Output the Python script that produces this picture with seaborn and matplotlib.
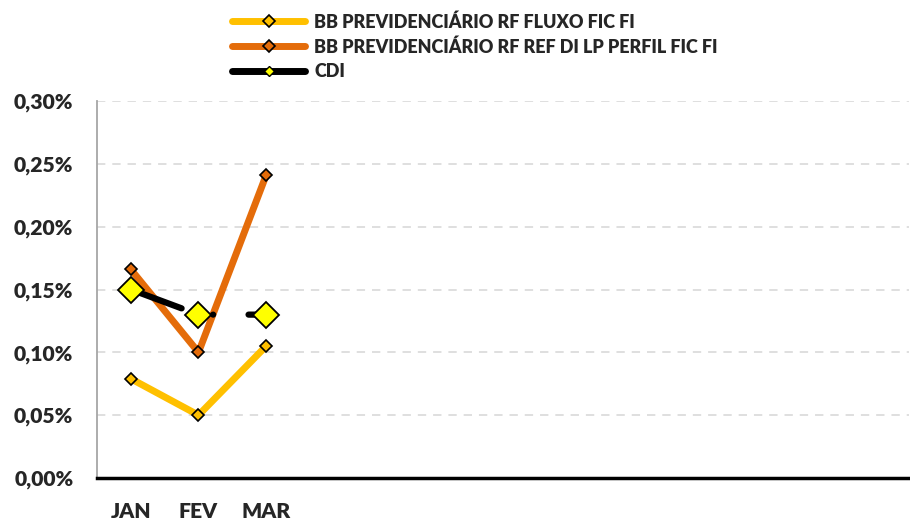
import matplotlib
matplotlib.use("Agg")
import matplotlib.pyplot as plt
from matplotlib.lines import Line2D
from matplotlib.ticker import FuncFormatter, FixedLocator
import numpy as np
import pandas as pd
import seaborn as sns

# dados (% ao mes)
meses = ["JAN", "FEV", "MAR", "", "", "", "", "", "", "", "", ""]
fluxo = [0.079, 0.050, 0.105]
perfil = [0.166, 0.100, 0.241]
cdi = [0.150, 0.130, 0.130]

nome_fluxo = "BB PREVIDENCIÁRIO RF FLUXO FIC FI"
nome_perfil = "BB PREVIDENCIÁRIO RF REF DI LP PERFIL FIC FI"
nome_cdi = "CDI"

cor_fluxo = "#FFC000"
cor_perfil = "#E46C0A"
cor_cdi_marker = "#FFFF00"

sns.set_style("white")
plt.rcParams["font.family"] = ["Lato", "DejaVu Sans"]
plt.rcParams["lines.scale_dashes"] = False

fig = plt.figure(figsize=(9.10, 5.22), dpi=100)
ax = fig.add_axes([97 / 910, 1 - 478 / 522, 812 / 910, 377 / 522])

x = np.arange(len(fluxo))
df = pd.DataFrame({"x": x, "fluxo": fluxo, "perfil": perfil, "cdi": cdi})

sns.lineplot(data=df, x="x", y="fluxo", ax=ax, color=cor_fluxo, lw=5,
             marker="D", markersize=6, markerfacecolor=cor_fluxo,
             markeredgecolor="black", markeredgewidth=1.2, zorder=3)
sns.lineplot(data=df, x="x", y="perfil", ax=ax, color=cor_perfil, lw=5,
             marker="D", markersize=6, markerfacecolor=cor_perfil,
             markeredgecolor="black", markeredgewidth=1.2, zorder=4)
# linha do CDI aparece interrompida no original
sns.lineplot(data=df, x="x", y="cdi", ax=ax, color="black", lw=4.5,
             linestyle=(0, (39, 23.5, 0.01, 25.5, 30)),
             dash_capstyle="round", solid_capstyle="round", zorder=5)
ax.plot(x, cdi, ls="none", marker="D", markersize=13,
        markerfacecolor=cor_cdi_marker, markeredgecolor="black",
        markeredgewidth=1.3, zorder=6)

ax.set_xlim(-0.5, len(meses) - 0.5)
ax.set_ylim(0, 0.30)
ax.set_xlabel("")
ax.set_ylabel("")

# eixo y
ax.set_yticks(np.arange(0, 0.301, 0.05))
ax.yaxis.set_major_formatter(FuncFormatter(lambda v, p: f"{v:.2f}%".replace(".", ",")))
for y in np.arange(0.05, 0.301, 0.05):
    ax.axhline(y, color="#D9D9D9", lw=1.2, ls=(0, (6, 5)), zorder=1)

# eixo x: marcas nas divisas, rotulos no centro
ax.xaxis.set_major_locator(FixedLocator(np.arange(-0.5, len(meses), 1.0)))
ax.xaxis.set_minor_locator(FixedLocator(np.arange(len(meses))))
ax.set_xticklabels([])
ax.set_xticklabels(meses, minor=True)
ax.tick_params(axis="x", which="major", length=6, width=2.5, color="black", direction="out")
ax.tick_params(axis="x", which="minor", length=0, pad=17)
ax.tick_params(axis="y", length=5, width=1, color="#A6A6A6", direction="out", pad=12)

for lbl in ax.get_xticklabels(minor=True) + ax.get_yticklabels():
    lbl.set_fontweight("heavy")
    lbl.set_fontsize(15.2)

for s in ["top", "right"]:
    ax.spines[s].set_visible(False)
ax.spines["left"].set_color("#A6A6A6")
ax.spines["left"].set_linewidth(1.3)
ax.spines["bottom"].set_color("black")
ax.spines["bottom"].set_linewidth(2.5)
ax.spines["bottom"].set_zorder(7)

handles = [
    Line2D([], [], color=cor_fluxo, lw=5, solid_capstyle="round", marker="D", markersize=6,
           markerfacecolor=cor_fluxo, markeredgecolor="black", markeredgewidth=1.2),
    Line2D([], [], color=cor_perfil, lw=5, solid_capstyle="round", marker="D", markersize=6,
           markerfacecolor=cor_perfil, markeredgecolor="black", markeredgewidth=1.2),
    Line2D([], [], color="black", lw=5, solid_capstyle="round", marker="D", markersize=5,
           markerfacecolor=cor_cdi_marker, markeredgecolor="black", markeredgewidth=1),
]
leg = fig.legend(handles, [nome_fluxo, nome_perfil, nome_cdi], loc="upper left",
                 bbox_to_anchor=(232 / 910, 1 - 13 / 522), frameon=False,
                 handlelength=4.05, handletextpad=0.5, labelspacing=0.42,
                 borderpad=0, borderaxespad=0, prop={"weight": "heavy", "size": 13})

fig.savefig("out.png", dpi=100)
